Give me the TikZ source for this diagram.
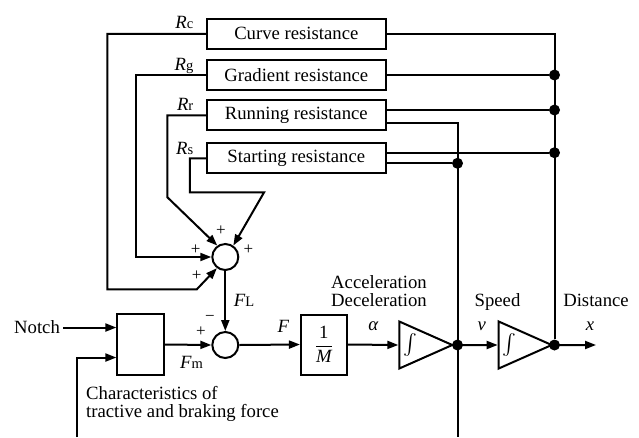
\documentclass[tikz,border=0pt]{standalone}
\usepackage{amsmath}
\usepackage{fontspec}
\setmainfont{Liberation Serif}
\usepackage{tikz}
\usetikzlibrary{arrows.meta,shapes.geometric}

\newcommand{\lowidx}[1]{{\fontsize{14.5}{14.5}\selectfont #1}}

\tikzset{
  every node/.style={font=\fontsize{18.7}{18}\selectfont},
  wire/.style={line width=2pt},
  arr/.style={wire,-{Triangle[length=11pt,width=8pt]}},
  blk/.style={draw, line width=2pt, inner sep=0pt},
  resist/.style={blk, minimum width=179pt, minimum height=30pt},
  sumpt/.style={circle, draw, line width=2pt, minimum size=26pt, inner sep=0pt},
  integ/.style={isosceles triangle, isosceles triangle stretches, draw, line width=2pt,
    minimum width=47pt, minimum height=53pt, inner sep=0pt, font=\fontsize{21}{21}\selectfont},
  junc/.style={circle, fill, minimum size=11pt, inner sep=0pt},
  sgn/.style={font=\fontsize{17}{17}\selectfont, inner sep=0pt}
}

\begin{document}
\begin{tikzpicture}[x=1pt,y=-1pt]
  \useasboundingbox (0,0) rectangle (639,437);

  \node[resist] (curve) at (296.3,33.8) {Curve resistance};
  \node[resist] (grad)  at (296.3,75)   {Gradient resistance};
  \node[resist] (run)   at (296.3,115.3) {Running resistance};
  \node[resist] (start) at (296.3,158.3) {Starting resistance};

  \node[anchor=base east] at ([xshift=-9pt,yshift=5pt]curve.west) {\textit{R}\lowidx{c}};
  \node[anchor=base east] at ([xshift=-9pt,yshift=5pt]grad.west)  {\textit{R}\lowidx{g}};
  \node[anchor=base east] at ([xshift=-9pt,yshift=5pt]run.west)   {\textit{R}\lowidx{r}};
  \node[anchor=base east] at ([xshift=-9pt,yshift=4pt]start.west) {\textit{R}\lowidx{s}};

  \node[sumpt] (sumL) at (225.3,257) {};
  \node[sumpt] (sumM) at (225.3,345) {};
  \node[blk, minimum width=46.7pt, minimum height=60.3pt] (ctrl) at (140.7,344.5) {};
  \node[blk, minimum width=45.7pt, minimum height=60pt] (invM) at (323.8,344.5)
    {$\dfrac{\textrm{1}}{\textit{M}}$};
  \node[integ, anchor=west] (int1) at (398.3,345) {$\int$};
  \node[integ, anchor=west] (int2) at (497.7,345) {$\int$};

  \node[junc] (jv)  at (457.5,345) {};
  \node[junc] (jx)  at (554.5,345) {};
  \node[junc] (jg)  at (554.5,75) {};
  \node[junc] (jr)  at (554.5,110) {};
  \node[junc] (js)  at (554.5,152.7) {};
  \node[junc] (jsv) at (457.5,163.3) {};

  \coordinate (xout) at (596,345);
  \coordinate (vbot) at (457.5,437);
  \coordinate (fbin) at (76.7,437);

  \node (notch) at (37,327.5) {Notch};

  % resistances fed back to the summing point
  \draw[arr] (curve.west) -- ++(-98.4,0) -- ++(0,255.5) -- ++(89.4,0) -- (sumL.233);
  \draw[arr] (grad.west) -- ++(-69.4,0) |- (sumL.west);
  \draw[arr] (run.west) -- ++(-38.4,0) -- ++(0,82) -- (sumL.125);
  \draw[arr] (start.west) -- ++(-16,0) -- ++(0,34) -- ++(74.3,0) -- (sumL.55);

  % speed and distance into the resistances
  \draw[wire] (curve.east) -| (jx);
  \draw[wire] (grad.east) -- (jg);
  \draw[wire] ([yshift=5.3pt]run.east) -- (jr);
  \draw[wire] ([yshift=5.6pt]start.east) -- (js);
  \draw[wire] ([yshift=-5pt]start.east) -- (jsv);
  \draw[wire] ([yshift=-7.4pt]run.east) -| (vbot);

  % main chain
  \draw[arr] (notch.east) -- (notch.east -| ctrl.west);
  \draw[arr] (fbin) |- ([yshift=-13pt]ctrl.west);
  \draw[arr] (ctrl.east) -- (sumM.west);
  \draw[arr] (sumL.south) -- (sumM.north);
  \draw[arr] (sumM.east) -- (invM.west);
  \draw[arr] (invM.east) -- (int1.west);
  \draw[arr] (int1.east) -- (int2.west);
  \draw[arr] (int2.east) -- (xout);

  \node[sgn] at (221,231) {+};
  \node[sgn] at (195.7,250) {+};
  \node[sgn] at (248.3,250) {+};
  \node[sgn] at (196.7,276) {+};
  \node[sgn] at (210,318) {−};
  \node[sgn] at (201,331.7) {+};

  \node[anchor=base] at (244,306.7) {\textit{F}\lowidx{L}};
  \node[anchor=base] at (191.5,368.3) {\textit{F}\lowidx{m}};
  \node[anchor=base] at (283.3,332) {\textit{F}};
  \node[anchor=base] at (373.5,330) {\textit{α}};
  \node[anchor=base] at (481.7,330) {\textit{v}};
  \node[anchor=base] at (590,330) {\textit{x}};

  \node[anchor=north, align=center, inner sep=0pt] at (379,275.5) {Acceleration\\Deceleration};
  \node[anchor=base] at (497.5,306.7) {Speed};
  \node[anchor=base] at (596,306.7) {Distance};
  \node[anchor=north west, align=left, inner sep=0pt] at (86,386.3)
    {Characteristics of\\tractive and braking force};
\end{tikzpicture}
\end{document}
